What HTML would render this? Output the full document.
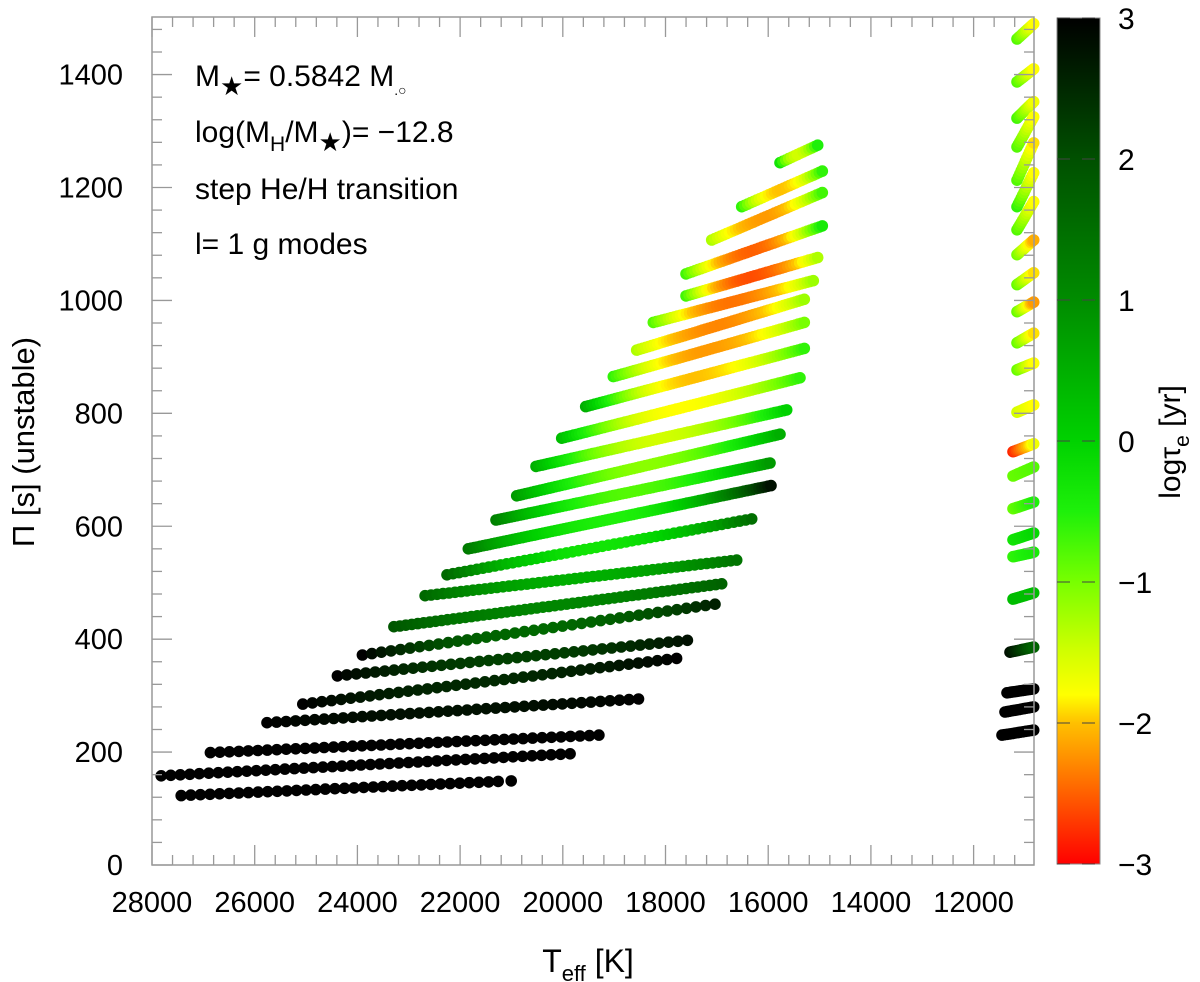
<!DOCTYPE html>
<html><head><meta charset="utf-8"><style>
html,body{margin:0;padding:0;background:#fff;}
svg{display:block;font-family:"Liberation Sans",sans-serif;}
</style></head><body>
<svg id="chart" width="1200" height="982" viewBox="0 0 1200 982" xmlns="http://www.w3.org/2000/svg">
<defs>
<linearGradient id="cbgrad" x1="0" y1="1" x2="0" y2="0"></linearGradient>
</defs>
<g id="marks"></g>
<g id="axes"></g>
<g id="cbar"></g>
<g font-size="30" fill="#000">
<text x="195" y="86">M<tspan font-size="26" dy="9">★</tspan><tspan dy="-9">= 0.5842 M</tspan><tspan font-size="14" dy="9">.○</tspan></text>
<text x="195" y="142">log(M<tspan font-size="21" dy="9">H</tspan><tspan dy="-9">/M</tspan><tspan font-size="26" dy="9">★</tspan><tspan dy="-9">)= −12.8</tspan></text>
<text x="195" y="199">step He/H transition</text>
<text x="195" y="254">l= 1 g modes</text>
</g>
<text x="0" y="0" transform="translate(34,442) rotate(-90)" text-anchor="middle" font-size="31">Π [s] (unstable)</text>
<text x="588" y="972" text-anchor="middle" font-size="32">T<tspan font-size="22" dy="9">eff</tspan><tspan dy="-9"> [K]</tspan></text>
<text x="0" y="0" transform="translate(1180,442) rotate(-90)" text-anchor="middle" font-size="30">logτ<tspan font-size="21" dy="9">e</tspan><tspan dy="-9"> [yr]</tspan></text>
</svg>
<script>
// Row data (mode sequences): left/right Teff, left/right period, logtau at left/mid/right
const rowT0 = [27431,27820,26862,25760,25064,24390,23903,23289,22682,22255,21840,21301,20898,20522,20022,19554,19016,18561,18237,17601,17601,17101,16516,15770];
const rowT1 = [21259,19858,19297,18525,17784,17574,17036,16906,16614,16322,15946,15965,15770,15640,15380,15297,15297,15297,15122,15037,14946,14946,14946,15037];
const rowP0 = [123,158,199,252,285,335,372,422,477,514,560,611,654,706,756,812,865,912,961,1008,1047,1107,1166,1244];
const rowP1 = [148,197,230,294,366,398,462,498,540,613,672,712,763,806,863,915,961,1002,1035,1076,1132,1191,1229,1275];
const rowC0 = [3,3,3,3,3,3,3,1.9,1.6,1.6,1.3,1.2,0.8,0.5,0.3,0.5,-0.6,-1.3,-0.8,-0.7,-0.7,-1.3,-0.6,-0.3];
const rowC1 = [3,3,3,2.8,2.5,2.2,1.6,1.1,0.5,-0.3,-0.5,-0.8,-1.1,-1.5,-1.8,-2.0,-2.2,-2.3,-2.4,-2.6,-2.5,-2.2,-2.0,-1.5];
const rowC2 = [3,3,3,3,3,2.8,2.6,1.7,1.4,1.5,2.8,0.8,0.5,0.0,-0.6,-0.6,-1.0,-1.2,-1.2,-1.3,-0.4,-0.7,-0.6,-0.5];
// extra isolated point
const extraT = [21005];
const extraP = [149];
const extraC = [3];
// cool-end short sequences
const stT0 = [11155,11155,11155,11155,11155,11155,11155,11155,11155,11155,11155,11155,11155,11233,11233,11233,11233,11233,11233,11292,11350,11389,11447];
const stT1 = [10830,10830,10830,10830,10830,10830,10830,10830,10830,10830,10830,10830,10830,10830,10830,10830,10830,10830,10830,10830,10830,10830,10830];
const stP0 = [1463,1387,1323,1272,1213,1166,1125,1081,1028,980,925,877,802,732,689,631,576,546,471,377,305,271,230];
const stP1 = [1490,1410,1352,1325,1279,1226,1175,1107,1049,997,942,889,815,746,705,643,588,554,482,386,312,280,239];
const stC0 = [-0.8,-0.8,-0.7,-0.8,-0.8,-0.6,-0.8,-1.0,-0.9,-0.9,-0.9,-0.9,-1.5,-2.8,-0.9,-0.9,-0.3,-0.6,0.3,2.8,3,3,3];
const stC1 = [-1.8,-1.8,-1.7,-1.8,-1.9,-1.8,-1.8,-2.1,-1.9,-2.2,-1.9,-1.8,-1.8,-1.7,-0.8,-0.5,-0.1,-0.4,0.3,1.7,3,3,3];
const xTicks = [28000,26000,24000,22000,20000,18000,16000,14000,12000];
const yTicks = [0,200,400,600,800,1000,1200,1400];
const cTicks = [-3,-2,-1,0,1,2,3];

const NS='http://www.w3.org/2000/svg';
const L=152,R=1034,T=17,B=865;
const TMAX=28000,TMIN=10824,PMAX=1502;
function xs(t){return L+(TMAX-t)/(TMAX-TMIN)*(R-L);}
function ys(p){return B-p/PMAX*(B-T);}
const CB0=864,CB1=18;
function cy(v){return CB0+(v+3)/6*(CB1-CB0);}
const stops=[[-3,[255,0,0]],[-2.5,[255,96,0]],[-2,[255,192,0]],[-1.8,[255,255,0]],[-1.5,[210,255,0]],[-1,[120,255,0]],[-0.5,[30,240,10]],[0,[0,210,0]],[1,[0,140,0]],[2,[0,80,0]],[3,[0,0,0]]];
function col(v){v=Math.max(-3,Math.min(3,v));for(let i=0;i<stops.length-1;i++){const a=stops[i],b=stops[i+1];if(v<=b[0]){const f=(v-a[0])/(b[0]-a[0]);const c=a[1].map((q,k)=>Math.round(q+(b[1][k]-q)*f));return 'rgb('+c.join(',')+')';}}return 'rgb(0,0,0)';}
function el(tag,attrs,parent){const e=document.createElementNS(NS,tag);for(const k in attrs)e.setAttribute(k,attrs[k]);parent.appendChild(e);return e;}

const marks=document.getElementById('marks');
function dot(t,p,c,r){const e=el('circle',{cx:xs(t).toFixed(1),cy:ys(p).toFixed(1),r:r,fill:col(c)},marks);

}
for(let i=0;i<rowT0.length;i++){
  const x0=xs(rowT0[i]),x1=xs(rowT1[i]);
  const step=i<7?9.5:(i<10?6:3);
  const n=Math.max(2,Math.round((x1-x0)/step));
  for(let j=0;j<=n;j++){const f=j/n;
    const t=rowT0[i]+(rowT1[i]-rowT0[i])*f,p=rowP0[i]+(rowP1[i]-rowP0[i])*f;
    const d=Math.abs(2*f-1), w=d*d;
    const c=rowC1[i]+((f<0.5?rowC0[i]:rowC2[i])-rowC1[i])*w;
    dot(t,p,c,5.8);}
}
for(let i=0;i<extraT.length;i++)dot(extraT[i],extraP[i],extraC[i],5.8);
for(let i=0;i<stT0.length;i++){
  const n=12;
  for(let j=0;j<=n;j++){const f=j/n;
    dot(stT0[i]+(stT1[i]-stT0[i])*f,stP0[i]+(stP1[i]-stP0[i])*f,stC0[i]+(stC1[i]-stC0[i])*f,5.8);}
}

const ax=document.getElementById('axes');
const fr=el('rect',{x:L,y:T,width:R-L,height:B-T,fill:'none',stroke:'#999','stroke-width':1.5},ax);


for(let t=28000;t>=TMIN;t-=400){const x=xs(t),len=(t%2000===0)?20:10;
  el('line',{x1:x,y1:B,x2:x,y2:B-len,stroke:'#999','stroke-width':1.3},ax);
  el('line',{x1:x,y1:T,x2:x,y2:T+len,stroke:'#999','stroke-width':1.3},ax);}
for(let p=0;p<=PMAX;p+=40){const y=ys(p),len=(p%200===0)?20:10;
  el('line',{x1:L,y1:y,x2:L+len,y2:y,stroke:'#999','stroke-width':1.3},ax);
  el('line',{x1:R,y1:y,x2:R-len,y2:y,stroke:'#999','stroke-width':1.3},ax);}
xTicks.forEach(t=>{const e=el('text',{x:xs(t),y:912,'text-anchor':'middle','font-size':29},ax);e.textContent=t;

});
yTicks.forEach(p=>{const e=el('text',{x:123,y:ys(p)+10,'text-anchor':'end','font-size':29},ax);e.textContent=p;

});

const g=document.getElementById('cbgrad');
stops.forEach(s=>{el('stop',{offset:((s[0]+3)/6).toFixed(4),'stop-color':'rgb('+s[1].join(',')+')'},g);});
const cb=document.getElementById('cbar');
const cr=el('rect',{x:1057,y:CB1,width:43,height:CB0-CB1,fill:'url(#cbgrad)',stroke:'#888','stroke-width':1},cb);


cTicks.forEach(v=>{const y=cy(v);
  el('line',{x1:1057,y1:y,x2:1100,y2:y,stroke:'#444','stroke-width':1,'stroke-dasharray':'13,12'},cb);
  const e=el('text',{x:1118,y:y+11,'font-size':30},cb);e.textContent=(v<0?'−'+(-v):v);
  
  });
</script>
</body></html>
